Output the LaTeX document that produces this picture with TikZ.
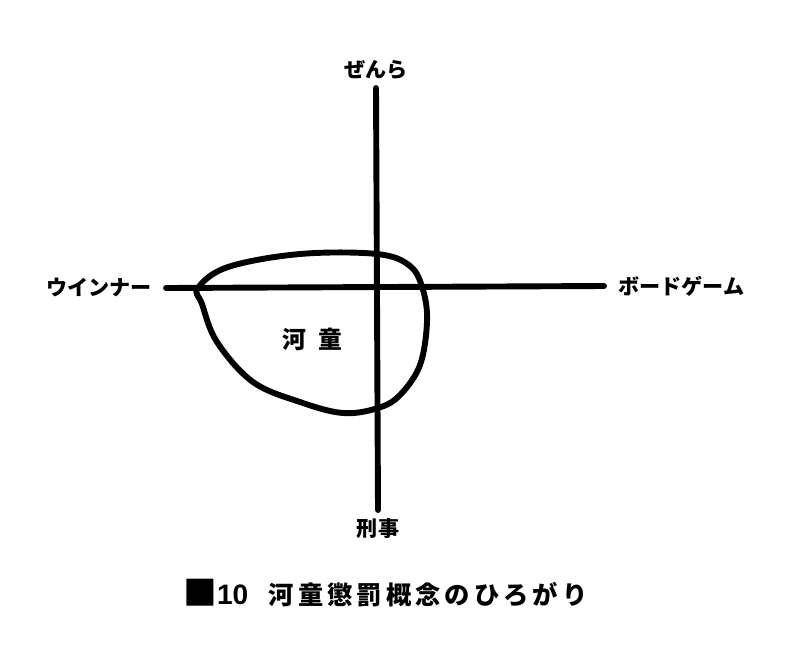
\documentclass[tikz,border=0pt]{standalone}
\usepackage{fontspec}
\setmainfont{Noto Sans CJK JP}
\newfontfamily\captionCJK[LetterSpace=16]{Noto Sans CJK JP}
\newfontfamily\wideCJK[LetterSpace=50]{Noto Sans CJK JP}
\newfontfamily\digitFont{Liberation Sans}
\usetikzlibrary{positioning}
\newcommand{\pxScale}{0.025cm}
\newcommand{\axisWidth}{4.2pt}
\newcommand{\labelFont}{\fontsize{15}{17}\selectfont\bfseries}
\newcommand{\captionFont}{\fontsize{18}{20}\selectfont\bfseries}

\begin{document}
\begin{tikzpicture}[x=\pxScale, y=-\pxScale,
    axisline/.style={line width=\axisWidth, line cap=round},
    blobline/.style={line width=\axisWidth},
    axislabel/.style={font=\labelFont, inner sep=1pt}]
  \useasboundingbox (0,0) rectangle (800,666);
         % axes
         \coordinate (top) at (376,88);
         \coordinate (bottom) at (378,510);
         \coordinate (left) at (166,288);
         \coordinate (right) at (604,286);
         \draw [axisline] (top) -- (bottom);
         \draw [axisline] (left) -- (right);
         \node (up) [axislabel, above=5pt of top] {ぜんら};
         \node (down) [axislabel, below=5pt of bottom] {刑事};
         \node (west) [axislabel, left=9pt of left] {ウインナー};
         \node (east) [axislabel, right=9pt of right] {ボードゲーム};
%\draw[blobline] (198,288) ellipse (100 and 70);
\draw[blobline] plot[smooth cycle, tension=0.6] coordinates {
  (198,288) (228,267) (300,254) (377,254) (410,266) (423,290)
  (427,322) (420,365) (400,395) (378,408) (343,413) (300,402)
  (253,382) (217,342) (202,304)};
\node (kappa) [font=\fontsize{17}{19}\selectfont\bfseries\wideCJK, anchor=west, inner sep=0pt] at (282,339) {河童};

\node (caption) [font=\captionFont, anchor=base west, inner sep=0pt] at (183,604)
  {\raisebox{-1pt}{\fontsize{24}{24}\selectfont ■}{\fontsize{20}{20}\selectfont\digitFont\bfseries 10}\hspace{14.5pt}{\captionCJK 河童懲罰概念のひろがり}};
   \end{tikzpicture}
\end{document}
